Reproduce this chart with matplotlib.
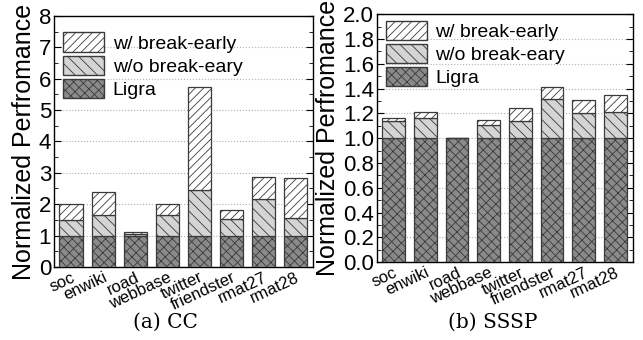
import numpy as np
import matplotlib.pyplot as plt
from matplotlib.patches import Patch
from matplotlib.ticker import MultipleLocator

plt.rcParams["font.family"] = "Liberation Sans"
plt.rcParams["hatch.linewidth"] = 0.6

graphs = ["soc", "enwiki", "road", "webbase", "twitter", "friendster", "rmat27", "rmat28"]

# cumulative heights
cc_ligra = [1.0, 1.0, 1.0, 1.0, 1.0, 1.0, 1.0, 1.0]
cc_wo = [1.5, 1.65, 1.05, 1.65, 2.45, 1.52, 2.15, 1.55]
cc_w = [2.0, 2.4, 1.1, 2.0, 5.75, 1.8, 2.88, 2.85]

sssp_ligra = [1.0, 1.0, 1.0, 1.0, 1.0, 1.0, 1.0, 1.0]
sssp_wo = [1.14, 1.165, 1.0, 1.11, 1.135, 1.32, 1.2, 1.215]
sssp_w = [1.16, 1.21, 1.0, 1.145, 1.24, 1.41, 1.31, 1.35]

edge = "#3a3a3a"
styles = {
    "ligra": dict(color="#8a8a8a", hatch="xxx\\"),
    "wo": dict(color="#d4d4d4", hatch="\\\\\\"),
    "w": dict(color="white", hatch="////"),
}


def draw(ax, ligra, wo, w, ymax, major, minor, fmt, leg_y):
    x = np.arange(len(graphs))
    ligra = np.array(ligra)
    wo = np.array(wo)
    w = np.array(w)
    bw = 0.72
    ax.bar(x, ligra, bw, facecolor=styles["ligra"]["color"], hatch=styles["ligra"]["hatch"],
           edgecolor=edge, linewidth=0.9, zorder=3)
    ax.bar(x, wo - ligra, bw, bottom=ligra, facecolor=styles["wo"]["color"],
           hatch=styles["wo"]["hatch"], edgecolor=edge, linewidth=0.9, zorder=3)
    ax.bar(x, w - wo, bw, bottom=wo, facecolor=styles["w"]["color"],
           hatch=styles["w"]["hatch"], edgecolor=edge, linewidth=0.9, zorder=3)
    ax.set_xlim(-0.53, 7.55)
    ax.set_ylim(0, ymax)
    ax.yaxis.set_major_locator(MultipleLocator(major))
    ax.yaxis.set_minor_locator(MultipleLocator(minor))
    ax.yaxis.set_major_formatter(fmt)
    ax.grid(axis="y", linestyle=":", color="#b0b0b0", linewidth=0.8, zorder=0)
    ax.tick_params(axis="y", which="both", direction="in", right=True, labelsize=16, pad=2)
    ax.tick_params(axis="y", which="major", length=5)
    ax.tick_params(axis="y", which="minor", length=3)
    ax.tick_params(axis="x", direction="in", length=0, pad=2)
    ax.set_xticks(x)
    ax.set_xticklabels(graphs, rotation=25, ha="right", rotation_mode="anchor", fontsize=12)
    ax.set_ylabel("Normalized Perfromance", fontsize=18, labelpad=2)
    for s in ax.spines.values():
        s.set_linewidth(1.0)
    handles = [
        Patch(facecolor=styles["w"]["color"], hatch=styles["w"]["hatch"], edgecolor=edge, label="w/ break-early"),
        Patch(facecolor=styles["wo"]["color"], hatch=styles["wo"]["hatch"], edgecolor=edge, label="w/o break-eary"),
        Patch(facecolor=styles["ligra"]["color"], hatch=styles["ligra"]["hatch"], edgecolor=edge, label="Ligra"),
    ]
    ax.legend(handles=handles, loc="upper left", frameon=False, fontsize=14,
              handlelength=2.1, handleheight=1.15, handletextpad=0.45, labelspacing=0.15,
              borderaxespad=0.0, borderpad=0.2, bbox_to_anchor=(0.02, leg_y))


fig = plt.figure(figsize=(6.43, 3.4), dpi=100)
ax1 = fig.add_axes([0.084, 0.215, 0.403, 0.738])
ax2 = fig.add_axes([0.586, 0.229, 0.398, 0.729])

draw(ax1, cc_ligra, cc_wo, cc_w, 8, 1, 0.5, "{x:.0f}", 0.95)
draw(ax2, sssp_ligra, sssp_wo, sssp_w, 2.0, 0.2, 0.1, "{x:.1f}", 0.99)

fig.text(0.258, 0.035, "(a) CC", ha="center", fontsize=14.5, family="DejaVu Serif")
fig.text(0.767, 0.035, "(b) SSSP", ha="center", fontsize=14.5, family="DejaVu Serif")

fig.savefig("out.png", dpi=100)
